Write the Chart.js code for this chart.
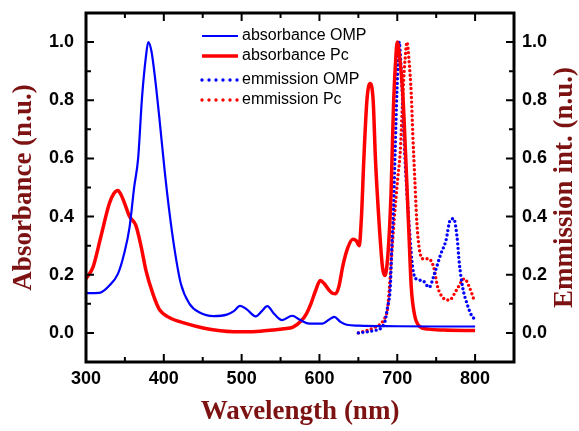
<!DOCTYPE html>
<html>
<head>
<meta charset="utf-8">
<script src="https://cdn.jsdelivr.net/npm/chart.js@4.4.0/dist/chart.umd.min.js"></script>
<style>
  html, body { margin: 0; padding: 0; background: #fff; }
  #wrap { width: 579px; height: 431px; }
</style>
</head>
<body>
<div id="wrap"><canvas id="spectra" width="579" height="431"></canvas></div>
<script>
// absorbance OMP (blue solid)
const absOmpX = [300, 317, 330, 341, 349, 356, 362, 367, 372, 377, 380, 384, 389, 395, 401, 407, 414, 422, 433, 446, 464, 481, 490, 498, 507, 518, 526, 533, 542, 552, 565, 575, 587, 604, 612, 619, 627, 635, 650, 700, 750, 800];
const absOmpY = [0.137, 0.138, 0.163, 0.203, 0.272, 0.364, 0.503, 0.6, 0.81, 0.95, 1.0, 0.97, 0.87, 0.72, 0.56, 0.42, 0.284, 0.168, 0.10, 0.07, 0.058, 0.063, 0.075, 0.093, 0.08, 0.057, 0.075, 0.092, 0.065, 0.044, 0.059, 0.045, 0.032, 0.032, 0.045, 0.055, 0.038, 0.028, 0.025, 0.023, 0.022, 0.022];

// absorbance Pc (red solid)
const absPcX = [300, 309, 319, 330, 336, 341, 345, 349, 356, 364, 371, 377, 386, 394, 407, 429, 452, 470, 490, 505, 524, 540, 554, 566, 576, 583, 589, 595, 601, 606, 612, 617, 621, 625, 630, 636, 643, 647, 651, 654, 657, 661, 665, 669, 672, 677, 681, 684, 688, 692, 695, 698, 700, 703, 707, 711, 715, 718, 722, 728, 740, 760, 800];
const absPcY = [0.186, 0.226, 0.33, 0.445, 0.48, 0.49, 0.475, 0.45, 0.40, 0.37, 0.295, 0.215, 0.134, 0.082, 0.053, 0.032, 0.016, 0.008, 0.004, 0.004, 0.006, 0.01, 0.014, 0.02, 0.04, 0.065, 0.1, 0.145, 0.18, 0.17, 0.148, 0.136, 0.135, 0.16, 0.23, 0.29, 0.322, 0.318, 0.30, 0.40, 0.595, 0.80, 0.858, 0.80, 0.595, 0.364, 0.226, 0.197, 0.27, 0.48, 0.77, 0.94, 1.0, 0.95, 0.826, 0.595, 0.34, 0.157, 0.065, 0.024, 0.013, 0.01, 0.008];

// emmission OMP (blue dotted)
const emOmpX = [650, 670, 683, 687.5, 691, 693, 695, 697.3, 699.5, 702.5, 704.5, 707, 709.6, 713, 716, 719.7, 724, 732.6, 741, 747.7, 756, 762.6, 768, 772.5, 776.8, 779.8, 784, 789.7, 795.7, 800];
const emOmpY = [0.0, 0.008, 0.03, 0.088, 0.157, 0.295, 0.42, 0.63, 0.826, 1.0, 0.93, 0.79, 0.618, 0.457, 0.342, 0.226, 0.186, 0.18, 0.157, 0.203, 0.272, 0.318, 0.388, 0.393, 0.33, 0.238, 0.157, 0.10, 0.059, 0.047];

// emmission Pc (red dotted)
const emPcX = [650, 670, 683, 687.5, 689.6, 692.6, 696, 700.4, 704, 706, 708, 710, 712.5, 715, 718, 720, 722.5, 725, 728, 732.6, 740, 746.8, 752, 758.4, 767, 775.6, 786.3, 792.7, 799];
const emPcY = [0.0, 0.018, 0.047, 0.083, 0.145, 0.26, 0.388, 0.526, 0.63, 0.75, 0.86, 0.94, 1.0, 0.94, 0.82, 0.68, 0.53, 0.388, 0.295, 0.255, 0.255, 0.226, 0.157, 0.122, 0.113, 0.145, 0.186, 0.157, 0.11];

const xTicks = [300, 400, 500, 600, 700, 800];
const yTicks = [0.0, 0.2, 0.4, 0.6, 0.8, 1.0];

const toPoints = (xs, ys) => xs.map((x, i) => ({ x, y: ys[i] }));

const sansFont = '"Liberation Sans", Arial, sans-serif';
const serifFont = '"Liberation Serif", "Times New Roman", serif';
const titleColor = '#7d1212';

// frame, inward ticks, legend and right axis title
const frameTicks = {
  id: 'frameTicks',
  afterDatasetsDraw(chart) {
    const { ctx, chartArea: a, scales: { x, y } } = chart;
    ctx.save();
    ctx.strokeStyle = '#000';
    ctx.lineWidth = 2;
    ctx.beginPath();
    x.ticks.forEach(t => {
      const px = x.getPixelForValue(t.value);
      if (px <= a.left + 1 || px >= a.right - 1) return;
      const len = t.value % 100 === 0 ? 8 : 5;
      ctx.moveTo(px, a.bottom); ctx.lineTo(px, a.bottom - len);
      ctx.moveTo(px, a.top); ctx.lineTo(px, a.top + len);
    });
    y.ticks.forEach(t => {
      const py = y.getPixelForValue(t.value);
      if (py <= a.top + 1 || py >= a.bottom - 1) return;
      const r = Math.round(t.value * 10);
      const len = r % 2 === 0 ? 8 : 5;
      ctx.moveTo(a.left, py); ctx.lineTo(a.left + len, py);
      ctx.moveTo(a.right, py); ctx.lineTo(a.right - len, py);
    });
    ctx.stroke();
    ctx.lineWidth = 3;
    ctx.strokeRect(a.left, a.top, a.right - a.left, a.bottom - a.top);

    // legend
    const rows = [36, 56, 80, 100];
    ctx.font = '16px ' + sansFont;
    ctx.textBaseline = 'middle';
    ctx.textAlign = 'left';
    chart.data.datasets.forEach((ds, i) => {
      const ly = rows[i];
      ctx.beginPath();
      ctx.strokeStyle = ds.borderColor;
      ctx.lineWidth = ds.borderWidth;
      ctx.lineCap = ds.borderCapStyle || 'butt';
      ctx.setLineDash(ds.borderDash ? [0, 7] : []);
      ctx.moveTo(202, ly); ctx.lineTo(238, ly);
      ctx.stroke();
      ctx.setLineDash([]);
      ctx.fillStyle = '#000';
      ctx.fillText(ds.label, 242, ly);
    });

    // right title, reading bottom to top
    ctx.translate(565, (a.top + a.bottom) / 2);
    ctx.rotate(-Math.PI / 2);
    ctx.font = 'bold 27px ' + serifFont;
    ctx.fillStyle = titleColor;
    ctx.textAlign = 'center';
    ctx.textBaseline = 'middle';
    ctx.fillText('Emmission int. (n.u.)', 0, 0);
    ctx.restore();
  }
};

const tickFont = { family: sansFont, size: 18, weight: 'bold' };
const noGrid = { display: false, drawTicks: false };

const yLabel = v => {
  const r = Math.round(v * 10);
  return yTicks.some(t => Math.round(t * 10) === r) ? (r / 10).toFixed(1) : '';
};

const fitY = w => s => { s.width = w; s.paddingTop = 0; s.paddingBottom = 0; };

new Chart(document.getElementById('spectra'), {
  type: 'line',
  data: {
    datasets: [
      {
        label: 'absorbance OMP',
        data: toPoints(absOmpX, absOmpY),
        borderColor: '#0000ff',
        borderWidth: 2.2,
        yAxisID: 'y'
      },
      {
        label: 'absorbance Pc',
        data: toPoints(absPcX, absPcY),
        borderColor: '#ff0000',
        borderWidth: 3.5,
        yAxisID: 'y'
      },
      {
        label: 'emmission OMP',
        data: toPoints(emOmpX, emOmpY),
        borderColor: '#0000ff',
        borderWidth: 3.4,
        borderDash: [0, 4.5],
        borderCapStyle: 'round',
        yAxisID: 'y2'
      },
      {
        label: 'emmission Pc',
        data: toPoints(emPcX, emPcY),
        borderColor: '#ff0000',
        borderWidth: 3.4,
        borderDash: [0, 4.5],
        borderCapStyle: 'round',
        yAxisID: 'y2'
      }
    ]
  },
  options: {
    responsive: false,
    animation: false,
    layout: { padding: { top: 13, left: 0, right: 0, bottom: 0 } },
    elements: {
      point: { radius: 0 },
      line: { cubicInterpolationMode: 'monotone', fill: false }
    },
    plugins: {
      legend: { display: false },
      tooltip: { enabled: false }
    },
    scales: {
      x: {
        type: 'linear',
        position: 'bottom',
        min: 300,
        max: 850,
        grid: noGrid,
        border: { display: false },
        ticks: {
          stepSize: 50,
          autoSkip: false,
          maxRotation: 0,
          padding: 6,
          color: '#000',
          font: tickFont,
          callback: v => xTicks.includes(v) ? String(v) : ''
        },
        title: {
          display: true,
          text: 'Wavelength (nm)',
          color: titleColor,
          font: { family: serifFont, size: 27, weight: 'bold' },
          padding: { top: 0, bottom: 3 }
        },
        afterFit: s => { s.height = 69; s.paddingLeft = 0; s.paddingRight = 0; }
      },
      y: {
        position: 'left',
        min: -0.1,
        max: 1.1,
        grid: noGrid,
        border: { display: false },
        ticks: {
          stepSize: 0.1,
          autoSkip: false,
          padding: 12,
          color: '#000',
          font: tickFont,
          callback: yLabel
        },
        title: {
          display: true,
          text: 'Absorbance (n.u.)',
          color: titleColor,
          font: { family: serifFont, size: 27, weight: 'bold' },
          padding: { top: 8, bottom: 0 }
        },
        afterFit: fitY(86)
      },
      y2: {
        position: 'right',
        min: -0.1,
        max: 1.1,
        grid: noGrid,
        border: { display: false },
        ticks: {
          stepSize: 0.1,
          autoSkip: false,
          padding: 8,
          color: '#000',
          font: tickFont,
          callback: yLabel
        },
        afterFit: fitY(65)
      }
    }
  },
  plugins: [frameTicks]
});
</script>
</body>
</html>
